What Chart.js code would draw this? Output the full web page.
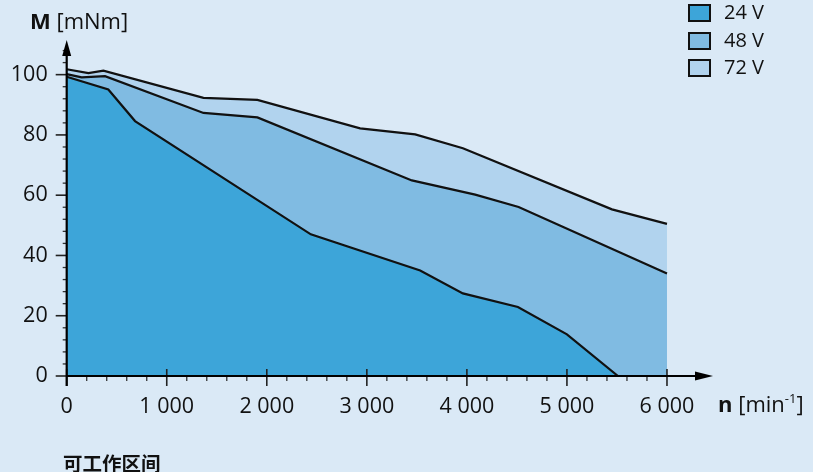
<!DOCTYPE html>
<html><head><meta charset="utf-8">
<script src="https://cdn.jsdelivr.net/npm/chart.js@4.4.1/dist/chart.umd.min.js"></script>
<style>
html,body{margin:0;padding:0;background:#dae9f6;}
#wrap{position:relative;width:813px;height:472px;overflow:hidden;font-family:"Open Sans",sans-serif;color:#111;background:#dae9f6;}
canvas{position:absolute;left:0;top:0;}
.t{position:absolute;white-space:nowrap;line-height:1;}
.lg{position:absolute;left:688px;width:19px;height:14px;border:2px solid #111;}
.sup{font-size:13px;position:relative;top:-9px;}
</style></head><body>
<div id="wrap">
<canvas id="c" width="813" height="472"></canvas>
<div class="t" style="left:30px;top:8.5px;font-size:22px;"><b>M</b> [mNm]</div>
<div class="t" style="left:718px;top:392px;font-size:22px;"><b>n</b> [min<span class="sup">-1</span>]</div>
<div id="legend"></div>
<div class="t" style="left:63px;top:453px;font-size:19.5px;font-weight:bold;font-family:'Noto Sans CJK SC',sans-serif;">可工作区间</div>
</div>
<script>
// ---- data ----
const seriesLabels = ['24 V', '48 V', '72 V'];
const speed24  = [0, 416, 683, 2440, 3533, 3960, 4510, 5000, 5510];
const torque24 = [99.3, 95.1, 84.6, 47.0, 35.0, 27.4, 22.9, 13.8, 0];
const speed48  = [0, 150, 383, 1367, 1906, 3450, 4083, 4517, 6000];
const torque48 = [100.2, 99.1, 99.5, 87.3, 85.8, 64.9, 60.2, 56.1, 34.0];
const speed72  = [0, 217, 367, 1367, 1906, 2933, 3483, 3960, 5450, 6000];
const torque72 = [101.8, 100.5, 101.3, 92.3, 91.6, 82.2, 80.2, 75.6, 55.3, 50.5];
const xTickValues = [0, 1000, 2000, 3000, 4000, 5000, 6000];
const yTickValues = [0, 20, 40, 60, 80, 100];

// ---- styles ----
const fillColors = ['#3da5d9', '#80bbe2', '#b1d3ee'];
const xMax = 6460, yMax = 111.5;

const pts = (xs, ys) => xs.map((v, i) => ({x: v, y: ys[i]}));
const seriesData = [pts(speed24, torque24), pts(speed48, torque48), pts(speed72, torque72)];

const fmt = v => { const s = String(v); return s.length > 3 ? s.slice(0, s.length - 3) + ' ' + s.slice(-3) : s; };

const axesPlugin = {
  id: 'axesPlugin',
  afterDatasetsDraw(chart) {
    const {ctx, scales: {x, y}} = chart;
    const x0 = x.getPixelForValue(0), y0 = y.getPixelForValue(0);
    const xEnd = x.getPixelForValue(xMax), yEnd = y.getPixelForValue(yMax);
    ctx.save();
    ctx.strokeStyle = '#000'; ctx.fillStyle = '#000';
    // minor ticks x
    ctx.lineWidth = 1.3; ctx.strokeStyle = '#333';
    for (let v = 200; v < 6000; v += 200) {
      if (v % 1000 === 0) continue;
      const px = x.getPixelForValue(v);
      ctx.beginPath(); ctx.moveTo(px, y0); ctx.lineTo(px, y0 + 5); ctx.stroke();
    }
    // minor ticks y
    for (let v = 4; v <= 108; v += 4) {
      if (v % 20 === 0) continue;
      const py = y.getPixelForValue(v);
      ctx.beginPath(); ctx.moveTo(x0 - 4, py); ctx.lineTo(x0, py); ctx.stroke();
    }
    // major ticks
    ctx.lineWidth = 1.6; ctx.strokeStyle = '#222';
    xTickValues.forEach(v => {
      const px = x.getPixelForValue(v);
      ctx.beginPath(); ctx.moveTo(px, y0 - 7); ctx.lineTo(px, y0 + 10); ctx.stroke();
    });
    yTickValues.forEach(v => {
      const py = y.getPixelForValue(v);
      ctx.beginPath(); ctx.moveTo(x0 - 11, py); ctx.lineTo(x0, py); ctx.stroke();
    });
    // axis lines
    ctx.strokeStyle = '#000'; ctx.lineWidth = 2.2;
    ctx.beginPath(); ctx.moveTo(x0, y0); ctx.lineTo(xEnd - 10, y0); ctx.stroke();
    ctx.beginPath(); ctx.moveTo(x0, y0 + 10); ctx.lineTo(x0, yEnd + 10); ctx.stroke();
    // arrowheads
    ctx.beginPath(); ctx.moveTo(xEnd, y0); ctx.lineTo(xEnd - 18, y0 - 4.5); ctx.lineTo(xEnd - 18, y0 + 4.5); ctx.closePath(); ctx.fill();
    ctx.beginPath(); ctx.moveTo(x0, yEnd); ctx.lineTo(x0 - 4.5, yEnd + 16); ctx.lineTo(x0 + 4.5, yEnd + 16); ctx.closePath(); ctx.fill();
    ctx.restore();
  }
};

const tickFont = {family: 'Open Sans', size: 21.5};

const chart = new Chart(document.getElementById('c'), {
  type: 'line',
  data: {
    datasets: seriesData.map((d, i) => ({
      label: seriesLabels[i],
      data: d,
      fill: 'origin',
      backgroundColor: fillColors[i],
      borderColor: '#111',
      borderWidth: 2.2,
      pointRadius: 0,
      tension: 0
    }))
  },
  options: {
    responsive: false,
    animation: false,
    events: [],
    layout: {padding: {left: 0, top: 40, right: 100, bottom: 0}},
    plugins: {legend: {display: false}, tooltip: {enabled: false}},
    scales: {
      x: {
        type: 'linear', min: 0, max: xMax,
        grid: {display: false, drawTicks: false}, border: {display: false},
        afterBuildTicks: s => { s.ticks = xTickValues.map(v => ({value: v})); },
        afterFit: s => { s.height = 96; },
        ticks: {padding: 18, color: '#111', font: tickFont, maxRotation: 0, autoSkip: false, callback: v => fmt(v)}
      },
      y: {
        type: 'linear', min: 0, max: yMax,
        grid: {display: false, drawTicks: false}, border: {display: false},
        afterBuildTicks: s => { s.ticks = yTickValues.map(v => ({value: v})); },
        afterFit: s => { s.width = 66.7; },
        ticks: {padding: 19, color: '#111', font: tickFont, callback: v => String(v)}
      }
    }
  },
  plugins: [axesPlugin]
});

// legend built from datasets
const lg = document.getElementById('legend');
chart.data.datasets.forEach((ds, i) => {
  const box = document.createElement('div');
  box.className = 'lg';
  box.style.top = (4 + i * 27.5) + 'px';
  box.style.background = ds.backgroundColor;
  lg.appendChild(box);
  const t = document.createElement('div');
  t.className = 't';
  t.style.left = '724px';
  t.style.top = (2.2 + i * 27.3) + 'px';
  t.style.fontSize = '20px';
  t.textContent = ds.label;
  lg.appendChild(t);
});
</script>
</body></html>
